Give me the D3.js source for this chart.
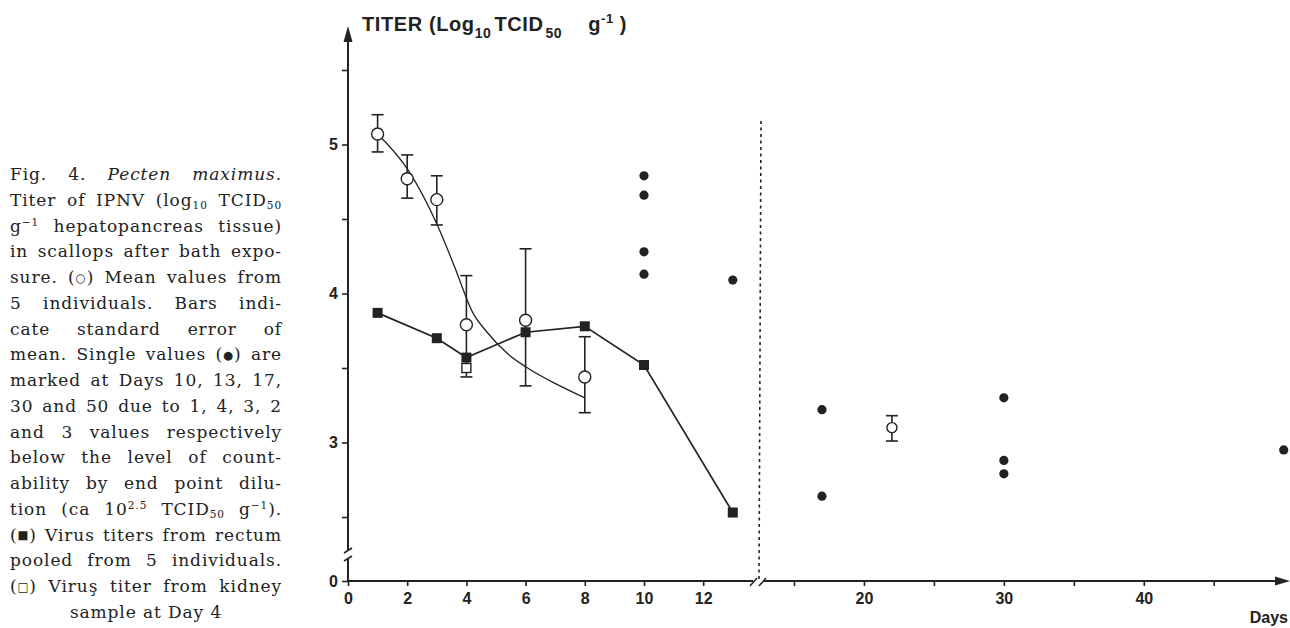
<!DOCTYPE html>
<html>
<head>
<meta charset="utf-8">
<script src="https://cdn.jsdelivr.net/npm/d3@7"></script>
<style>
  body { margin: 0; background: #fff; }
  #wrap { position: relative; width: 1290px; height: 628px; overflow: hidden; }
  #chart { position: absolute; left: 0; top: 0; }
  .caption { position: absolute; left: 10px; top: 162px; width: 272px;
    font-family: "DejaVu Serif", serif; font-size: 17px; color: #222; }
  .caption div { height: 25.75px; line-height: 25.75px; white-space: nowrap; text-align: left; }
  .caption.just div { text-align: justify; text-align-last: justify; }
  .caption.just div.last { text-align-last: center; }
  .caption sub, .caption sup { font-size: 0.62em; line-height: 0; }
  .caption sub { vertical-align: -0.25em; }
  .caption sup { vertical-align: 0.6em; }
  .caption .sym { display: inline-block; font-size: 0.68em; vertical-align: 0.1em; }
  .axis text { font-family: "Liberation Sans", Arial, sans-serif; font-weight: bold; font-size: 16px; fill: #222; }
  .axis line { stroke: #222; stroke-width: 1.6; }
</style>
</head>
<body>
<div id="wrap">
  <div id="chart"></div>
  <div class="caption" id="caption"></div>
</div>
<script>
// Fig. 4 - IPNV titer in scallops

// open circles: mean of 5 individuals, with standard error
var meanDays = [1, 2, 3, 4, 6, 8, 22];
var meanValues = [5.07, 4.77, 4.63, 3.79, 3.82, 3.44, 3.10];
var meanUpper = [5.20, 4.93, 4.79, 4.12, 4.30, 3.71, 3.18];
var meanLower = [4.95, 4.64, 4.46, 3.44, 3.38, 3.20, 3.01];

// fitted curve through the means
var fitDays = [1, 2.06, 3.04, 3.6, 4.22, 4.7, 5.37, 6.15, 7.06, 8];
var fitValues = [5.07, 4.82, 4.45, 4.18, 3.87, 3.74, 3.60, 3.49, 3.39, 3.30];

// filled squares: rectum, pooled
var rectumDays = [1, 3, 4, 6, 8, 10, 13];
var rectumValues = [3.87, 3.70, 3.57, 3.74, 3.78, 3.52, 2.53];

// open square: kidney sample
var kidneyDays = [4];
var kidneyValues = [3.50];

// filled circles: single values
var singleDays = [10, 10, 10, 10, 13, 17, 17, 30, 30, 30, 50];
var singleValues = [4.79, 4.66, 4.28, 4.13, 4.09, 3.22, 2.64, 3.30, 2.88, 2.79, 2.95];

// ticks
var yTicks = [2.5, 3, 3.5, 4, 4.5, 5, 5.5];
var xTicksLeft = [0, 2, 4, 6, 8, 10, 12];
var xTicksRight = [15, 20, 25, 30, 35, 40, 45];
var xLabelsRight = [20, 30, 40];

var captionLines = [
  'Fig. 4. <i>Pecten maximus.</i>',
  'Titer of IPNV (log<sub>10</sub> TCID<sub>50</sub>',
  'g<sup>\u22121</sup> hepatopancreas tissue)',
  'in scallops after bath expo-',
  'sure. (<span class="sym">\u25CB</span>) Mean values from',
  '5 individuals. Bars indi-',
  'cate standard error of',
  'mean. Single values (<span class="sym">\u25CF</span>) are',
  'marked at Days 10, 13, 17,',
  '30 and 50 due to 1, 4, 3, 2',
  'and 3 values respectively',
  'below the level of count-',
  'ability by end point dilu-',
  'tion (ca 10<sup>2.5</sup> TCID<sub>50</sub> g<sup>\u22121</sup>).',
  '(<span class="sym">\u25A0</span>) Virus titers from rectum',
  'pooled from 5 individuals.',
  '(<span class="sym">\u25A1</span>) Viru\u015F titer from kidney',
  'sample at Day 4'
];

var width = 1290, height = 628;
var ink = "#222";

// caption: measure natural widths, widen letters a little, then justify
var cap = d3.select("#caption");
var capDivs = cap.selectAll("div")
  .data(captionLines).enter()
  .append("div")
  .attr("class", function(d, i) { return i === captionLines.length - 1 ? "last" : null; });
capDivs.append("span").html(function(d) { return d; });
var spare = d3.min(capDivs.nodes(), function(n) {
  var sp = n.firstChild;
  return (268 - sp.getBoundingClientRect().width) / sp.textContent.length;
});
cap.style("letter-spacing", Math.max(0, Math.min(spare, 0.9)) + "px");
cap.classed("just", true);

var svg = d3.select("#chart").append("svg")
  .attr("width", width)
  .attr("height", height);

// scales (broken axes)
var y = d3.scaleLinear().domain([2.5, 5.5]).range([517, 70]);
var yLow = d3.scaleLinear().domain([0, 0.2]).range([581, 560]);
var xL = d3.scaleLinear().domain([0, 13.7]).range([348, 753.5]);
var xR = d3.scaleLinear().domain([13, 50.45]).range([766, 1290]);
var baseY = yLow(0);
var axisX = xL(0);

function xPos(d) { return d <= 13 ? xL(d) : xR(d); }

// y axis ticks
var yAxis = d3.axisLeft(y)
  .tickValues(yTicks)
  .tickSize(6)
  .tickPadding(4)
  .tickFormat(function(d) { return Number.isInteger(d) ? d : ""; });
var gy = svg.append("g").attr("class", "axis")
  .attr("transform", "translate(" + axisX + ",0)")
  .call(yAxis);
gy.select(".domain").remove();
gy.selectAll("text").attr("font-size", 17);

var gy0 = svg.append("g").attr("class", "axis")
  .attr("transform", "translate(" + axisX + ",0)")
  .call(d3.axisLeft(yLow).tickValues([0]).tickSize(6).tickPadding(4).tickFormat(d3.format("d")));
gy0.select(".domain").remove();
gy0.selectAll("text").attr("font-size", 17);

// x axes ticks
var gxl = svg.append("g").attr("class", "axis")
  .attr("transform", "translate(0," + baseY + ")")
  .call(d3.axisBottom(xL).tickValues(xTicksLeft).tickSize(5).tickPadding(7));
gxl.select(".domain").remove();

var gxr = svg.append("g").attr("class", "axis")
  .attr("transform", "translate(0," + baseY + ")")
  .call(d3.axisBottom(xR).tickValues(xTicksRight).tickSize(5).tickPadding(7)
    .tickFormat(function(d) { return xLabelsRight.indexOf(d) >= 0 ? d : ""; }));
gxr.select(".domain").remove();

// axis lines with breaks
var axisLines = svg.append("g")
  .attr("stroke", ink).attr("stroke-width", 2).attr("fill", "none");
axisLines.append("line").attr("x1", axisX).attr("x2", axisX).attr("y1", baseY).attr("y2", 558);
axisLines.append("line").attr("x1", axisX).attr("x2", axisX).attr("y1", 550).attr("y2", 38);
axisLines.append("line").attr("x1", axisX - 4).attr("x2", axisX + 4).attr("y1", 553).attr("y2", 548).attr("stroke-width", 1.5);
axisLines.append("line").attr("x1", axisX - 4).attr("x2", axisX + 4).attr("y1", 561).attr("y2", 556).attr("stroke-width", 1.5);

axisLines.append("line").attr("x1", axisX).attr("x2", 753).attr("y1", baseY).attr("y2", baseY);
axisLines.append("line").attr("x1", 764).attr("x2", 1280).attr("y1", baseY).attr("y2", baseY);
axisLines.append("line").attr("x1", 750).attr("x2", 757).attr("y1", baseY + 5).attr("y2", baseY - 3).attr("stroke-width", 1.5);
axisLines.append("line").attr("x1", 759).attr("x2", 766).attr("y1", baseY + 5).attr("y2", baseY - 3).attr("stroke-width", 1.5);

// arrow heads
svg.append("path")
  .attr("d", "M" + axisX + ",26 L" + (axisX - 4.5) + ",42 L" + (axisX + 4.5) + ",42 Z")
  .attr("fill", ink);
svg.append("path")
  .attr("d", "M1290," + baseY + " L1275," + (baseY - 4.5) + " L1275," + (baseY + 4.5) + " Z")
  .attr("fill", ink);

// dotted separator between the two time ranges
svg.append("line")
  .attr("x1", 761).attr("x2", 759)
  .attr("y1", 121).attr("y2", baseY)
  .attr("stroke", ink).attr("stroke-width", 1.6)
  .attr("stroke-dasharray", "3,3.5");

// axis title
var title = svg.append("text")
  .attr("x", 362).attr("y", 31)
  .attr("font-family", "Liberation Sans, Arial, sans-serif")
  .attr("font-weight", "bold")
  .attr("font-size", 20)
  .attr("letter-spacing", 0.6)
  .attr("fill", ink);
title.append("tspan").text("TITER (Log");
title.append("tspan").attr("dy", 7).attr("font-size", 14).text("10");
title.append("tspan").attr("dy", -7).attr("dx", 3).text("TCID");
title.append("tspan").attr("dy", 7).attr("dx", 2).attr("font-size", 14).text("50");
title.append("tspan").attr("dy", -7).attr("dx", 26).text("g");
title.append("tspan").attr("dy", -8).attr("font-size", 13).text("-1");
title.append("tspan").attr("dy", 8).attr("dx", 6).text(")");

svg.append("text")
  .attr("x", 1288).attr("y", 623)
  .attr("text-anchor", "end")
  .attr("font-family", "Liberation Sans, Arial, sans-serif")
  .attr("font-weight", "bold")
  .attr("font-size", 16)
  .attr("fill", ink)
  .text("Days");

// fitted curve
var fitLine = d3.line()
  .x(function(d) { return xL(d[0]); })
  .y(function(d) { return y(d[1]); })
  .curve(d3.curveMonotoneX);
svg.append("path")
  .datum(d3.zip(fitDays, fitValues))
  .attr("d", fitLine)
  .attr("fill", "none")
  .attr("stroke", ink)
  .attr("stroke-width", 1.3);

// rectum line
var rectumLine = d3.line()
  .x(function(d) { return xL(d[0]); })
  .y(function(d) { return y(d[1]); });
svg.append("path")
  .datum(d3.zip(rectumDays, rectumValues))
  .attr("d", rectumLine)
  .attr("fill", "none")
  .attr("stroke", ink)
  .attr("stroke-width", 1.7);

// error bars
var meanData = meanDays.map(function(d, i) {
  return {day: d, value: meanValues[i], hi: meanUpper[i], lo: meanLower[i]};
});
var err = svg.append("g").attr("stroke", ink).attr("stroke-width", 1.6)
  .selectAll("g").data(meanData).enter().append("g");
err.append("line")
  .attr("x1", function(d) { return xPos(d.day); })
  .attr("x2", function(d) { return xPos(d.day); })
  .attr("y1", function(d) { return y(d.hi); })
  .attr("y2", function(d) { return y(d.lo); });
err.append("line")
  .attr("x1", function(d) { return xPos(d.day) - 6; })
  .attr("x2", function(d) { return xPos(d.day) + 6; })
  .attr("y1", function(d) { return y(d.hi); })
  .attr("y2", function(d) { return y(d.hi); });
err.append("line")
  .attr("x1", function(d) { return xPos(d.day) - 6; })
  .attr("x2", function(d) { return xPos(d.day) + 6; })
  .attr("y1", function(d) { return y(d.lo); })
  .attr("y2", function(d) { return y(d.lo); });

// kidney open square
svg.append("g").selectAll("rect")
  .data(d3.zip(kidneyDays, kidneyValues)).enter()
  .append("rect")
  .attr("x", function(d) { return xL(d[0]) - 4.5; })
  .attr("y", function(d) { return y(d[1]) - 4.5; })
  .attr("width", 9).attr("height", 9)
  .attr("fill", "#fff").attr("stroke", ink).attr("stroke-width", 1.4);

// rectum filled squares
svg.append("g").selectAll("rect")
  .data(d3.zip(rectumDays, rectumValues)).enter()
  .append("rect")
  .attr("x", function(d) { return xL(d[0]) - 5; })
  .attr("y", function(d) { return y(d[1]) - 5; })
  .attr("width", 10).attr("height", 10)
  .attr("fill", ink);

// mean open circles
svg.append("g").selectAll("circle")
  .data(meanData).enter()
  .append("circle")
  .attr("cx", function(d) { return xPos(d.day); })
  .attr("cy", function(d) { return y(d.value); })
  .attr("r", function(d) { return d.day > 13 ? 5 : 6; })
  .attr("fill", "#fff").attr("stroke", ink).attr("stroke-width", 1.4);

// single values
svg.append("g").selectAll("circle")
  .data(d3.zip(singleDays, singleValues)).enter()
  .append("circle")
  .attr("cx", function(d) { return xPos(d[0]); })
  .attr("cy", function(d) { return y(d[1]); })
  .attr("r", 4.6)
  .attr("fill", ink);
</script>
</body>
</html>
